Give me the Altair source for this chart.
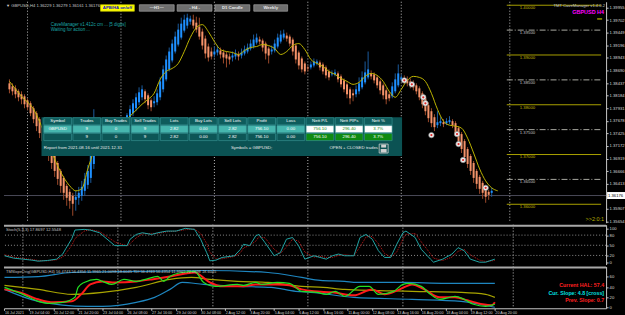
import json
import numpy as np
import pandas as pd
import altair as alt

FONT = "Liberation Sans"
W = 605
H_MAIN, H_STO, H_TMA = 222, 40, 42
X_DOMAIN = [-0.16, 196.3]

# ---------------- time axis ----------------
time_labels = ["16 Jul 2021", "19 Jul 04:00", "20 Jul 12:00", "21 Jul 20:00", "23 Jul 04:00",
               "26 Jul 08:00", "27 Jul 16:00", "29 Jul 00:00", "30 Jul 08:00", "2 Aug 12:00",
               "3 Aug 20:00", "5 Aug 04:00", "6 Aug 12:00", "9 Aug 16:00", "11 Aug 00:00",
               "12 Aug 08:00", "13 Aug 16:00", "16 Aug 20:00", "18 Aug 04:00", "19 Aug 12:00",
               "20 Aug 20:00"]
label_idx = [0, 8, 16, 24, 32, 40, 48, 56, 64, 72, 80, 88, 96, 104, 112, 120, 128, 136, 144, 152, 160]
week_sep_idx = [6, 37, 68, 99, 130, 166]

# ---------------- Heiken-Ashi candles (price x 10000) ----------------
ha_open = [13843, 13837, 13833, 13827, 13821, 13817, 13809, 13803, 13793, 13783,
           13771, 13757, 13743, 13727, 13713, 13697, 13683, 13667, 13653, 13637,
           13625, 13617, 13609, 13613, 13617, 13627, 13639, 13653, 13681, 13719,
           13735, 13745, 13749, 13747, 13745, 13747, 13751, 13755, 13759, 13765,
           13773, 13783, 13793, 13805, 13815, 13827, 13819, 13809, 13803, 13805,
           13815, 13831, 13851, 13871, 13889, 13907, 13921, 13935, 13949, 13959,
           13967, 13971, 13965, 13957, 13947, 13933, 13917, 13907, 13901, 13905,
           13909, 13905, 13901, 13897, 13895, 13897, 13901, 13899, 13903, 13907,
           13913, 13917, 13925, 13931, 13929, 13923, 13913, 13907, 13909, 13917,
           13927, 13935, 13939, 13937, 13931, 13919, 13905, 13893, 13883, 13875,
           13875, 13879, 13883, 13885, 13881, 13875, 13867, 13861, 13861, 13863,
           13857, 13849, 13841, 13831, 13823, 13821, 13827, 13835, 13845, 13855,
           13863, 13861, 13855, 13847, 13839, 13829, 13821, 13817, 13827, 13839,
           13851, 13853, 13851, 13847, 13843, 13839, 13833, 13823, 13813, 13799,
           13787, 13775, 13759, 13763, 13765, 13763, 13765, 13767, 13763, 13753,
           13741, 13727, 13711, 13697, 13683, 13667, 13655, 13643, 13633, 13625,
           13623]
ha_close = [13831, 13827, 13821, 13815, 13811, 13801, 13795, 13783, 13771, 13757,
            13743, 13727, 13713, 13697, 13683, 13667, 13651, 13637, 13623, 13613,
            13607, 13601, 13615, 13623, 13635, 13651, 13667, 13707, 13757, 13751,
            13755, 13751, 13745, 13741, 13751, 13755, 13759, 13763, 13769, 13779,
            13791, 13803, 13815, 13825, 13831, 13811, 13799, 13795, 13807, 13823,
            13847, 13871, 13891, 13907, 13923, 13937, 13951, 13963, 13971, 13975,
            13973, 13959, 13951, 13937, 13919, 13903, 13895, 13897, 13907, 13911,
            13901, 13895, 13893, 13891, 13899, 13903, 13897, 13905, 13911, 13915,
            13923, 13931, 13935, 13927, 13915, 13903, 13899, 13911, 13923, 13935,
            13941, 13943, 13933, 13923, 13907, 13891, 13879, 13871, 13867, 13873,
            13881, 13887, 13887, 13875, 13867, 13859, 13855, 13863, 13865, 13851,
            13841, 13831, 13821, 13813, 13819, 13831, 13843, 13855, 13865, 13871,
            13857, 13849, 13839, 13829, 13819, 13811, 13813, 13837, 13851, 13863,
            13855, 13847, 13843, 13839, 13835, 13827, 13815, 13801, 13787, 13773,
            13763, 13755, 13765, 13767, 13761, 13767, 13769, 13759, 13743, 13727,
            13711, 13695, 13681, 13667, 13653, 13641, 13631, 13623, 13615, 13619,
            13627]
ha_high = [13851, 13843, 13839, 13831, 13827, 13821, 13813, 13807, 13797, 13787,
           13775, 13761, 13747, 13731, 13717, 13703, 13687, 13671, 13657, 13641,
           13631, 13623, 13627, 13635, 13647, 13663, 13679, 13717, 13791, 13767,
           13771, 13767, 13761, 13757, 13763, 13765, 13767, 13771, 13773, 13783,
           13799, 13811, 13823, 13835, 13839, 13831, 13823, 13813, 13817, 13831,
           13855, 13879, 13899, 13915, 13931, 13947, 13963, 13975, 13981, 13983,
           13979, 13981, 13977, 13975, 13953, 13939, 13923, 13915, 13917, 13919,
           13915, 13911, 13907, 13903, 13907, 13911, 13907, 13913, 13919, 13923,
           13931, 13941, 13943, 13937, 13933, 13927, 13917, 13919, 13931, 13943,
           13949, 13951, 13945, 13941, 13935, 13923, 13909, 13897, 13887, 13879,
           13887, 13893, 13891, 13889, 13885, 13879, 13871, 13869, 13871, 13867,
           13861, 13853, 13845, 13835, 13831, 13839, 13855, 13867, 13887, 13907,
           13869, 13865, 13859, 13851, 13843, 13833, 13827, 13845, 13863, 13881,
           13861, 13859, 13857, 13853, 13849, 13843, 13837, 13827, 13817, 13805,
           13793, 13781, 13787, 13775, 13771, 13773, 13777, 13771, 13767, 13757,
           13745, 13731, 13715, 13701, 13687, 13671, 13659, 13647, 13637, 13629,
           13633]
ha_low = [13823, 13819, 13813, 13807, 13801, 13793, 13789, 13777, 13763, 13747,
          13733, 13717, 13703, 13687, 13671, 13655, 13639, 13623, 13609, 13597,
          13591, 13577, 13587, 13599, 13607, 13617, 13631, 13643, 13671, 13707,
          13727, 13735, 13735, 13731, 13737, 13741, 13745, 13751, 13753, 13759,
          13767, 13777, 13787, 13799, 13809, 13803, 13791, 13787, 13795, 13799,
          13809, 13825, 13847, 13867, 13885, 13903, 13917, 13931, 13945, 13953,
          13961, 13953, 13945, 13931, 13911, 13893, 13887, 13891, 13895, 13899,
          13893, 13883, 13875, 13881, 13887, 13891, 13889, 13893, 13899, 13903,
          13909, 13913, 13921, 13921, 13907, 13891, 13883, 13901, 13905, 13913,
          13923, 13931, 13927, 13917, 13899, 13883, 13871, 13865, 13861, 13867,
          13871, 13875, 13879, 13869, 13861, 13853, 13849, 13857, 13857, 13845,
          13835, 13825, 13813, 13801, 13807, 13815, 13821, 13831, 13841, 13851,
          13851, 13843, 13833, 13821, 13811, 13801, 13807, 13813, 13823, 13835,
          13847, 13841, 13837, 13833, 13829, 13821, 13809, 13793, 13779, 13765,
          13755, 13747, 13753, 13757, 13755, 13759, 13761, 13753, 13737, 13719,
          13703, 13687, 13673, 13659, 13643, 13631, 13621, 13611, 13603, 13609,
          13615]

# moving average (yellow)
ma_idx = [0, 4, 8, 12, 16, 20, 22, 24, 26, 28, 32, 36, 40, 44,
          46, 48, 50, 52, 54, 56, 58, 60, 62, 64, 66, 68, 70, 72, 74, 76, 78, 80, 82, 84,
          86, 88, 90, 92, 94, 96, 98, 100, 102, 104, 106, 108, 110, 112, 114, 116, 118, 120,
          122, 124, 126, 128, 130, 132, 134, 136, 138, 140, 142, 144, 146, 148, 150, 152,
          154, 156, 158, 160, 162]
ma_val = [13847, 13817, 13791, 13737, 13677, 13637, 13627, 13631, 13671, 13707,
          13747, 13757, 13777, 13801,
          13811, 13823, 13851, 13867, 13873, 13883, 13907, 13935, 13955, 13961,
          13947, 13927, 13911, 13907, 13905, 13901, 13909, 13915, 13917, 13921,
          13919, 13913, 13901, 13907, 13919, 13923, 13911, 13891, 13883, 13877,
          13867, 13861, 13853, 13847, 13841, 13845, 13857, 13863, 13859, 13847,
          13827, 13815, 13831, 13849, 13857, 13855, 13847, 13823, 13791, 13767,
          13759, 13757, 13753, 13733, 13703, 13671, 13647, 13633, 13627]

# trades (entry / exit markers)
trade_idx = [131, 133.5, 137.3, 138, 140, 148.5, 149, 150.5, 158]
trade_px = [13849, 13841, 13815, 13803, 13739, 13741, 13721, 13689, 13633]

# price levels and axis
levels_solid = [1.40, 1.39, 1.38, 1.37, 1.36]
levels_dash = [1.395, 1.385, 1.375, 1.365]
level_start = 165
level_label_at = 169.3
price_ticks = [1.39955, 1.39702, 1.39449, 1.39196, 1.38943, 1.38690, 1.38437, 1.38184,
               1.37931, 1.37678, 1.37425, 1.37172, 1.36919, 1.36666, 1.36413, 1.35907, 1.35654]
bid = 1.36176

# ---------------- Stochastic ----------------
stoch_idx = [0, 3, 6, 9, 11, 14, 17, 19, 20, 22, 23, 26, 28, 31, 36, 40, 41, 43, 45, 48,
             50, 53, 56, 59, 62, 64, 66, 67, 69, 71, 75, 77, 78, 80, 82, 83, 85, 88, 90, 92,
             94, 96, 98, 101, 103, 105, 107, 109, 111, 114, 116, 118, 120, 122, 124, 126, 128,
             130, 131, 134, 136, 139, 140, 143, 146, 148, 150, 152, 155, 157, 160]
stoch_main = [19, 12, 9, 6, 3, 5, 9, 24, 40, 70, 95, 97, 95, 87, 49, 49, 68, 82, 87, 82,
              87, 92, 92, 100, 97, 68, 28, 4, 6, 14, 19, 38, 53, 49, 78, 82, 58, 19, 28, 68,
              73, 48, 9, 19, 14, 9, 19, 24, 19, 19, 73, 82, 68, 34, 14, 14, 53, 87, 92, 73,
              38, 9, 0, 9, 24, 43, 34, 9, 0, 0, 9]
stoch_signal = [22, 15, 11, 8, 5, 4, 7, 15, 26, 50, 70, 92, 96, 91, 60, 48, 55, 72, 84, 85,
                85, 90, 92, 96, 98, 85, 55, 30, 10, 10, 17, 28, 42, 50, 62, 75, 72, 38, 25, 45,
                68, 62, 30, 15, 17, 14, 14, 20, 22, 19, 45, 75, 76, 55, 26, 15, 30, 68, 82, 85,
                60, 25, 12, 5, 15, 32, 38, 22, 6, 2, 5]

# ---------------- TMA slope window ----------------
tma_upper_idx = [0, 11, 22, 43, 65, 86, 97, 103, 111, 115, 130, 144, 160]
tma_upper = [58.8, 60.5, 68.5, 70.5, 72.4, 68.5, 58.8, 53.0, 51.1, 49.1, 49.1, 47.2, 47.2]
tma_lower_idx = [0, 11, 27, 32, 43, 49, 54, 58, 65, 76, 87, 95, 100, 114, 133, 149, 160]
tma_lower = [35.5, 12.2, 2.5, 2.5, 10.3, 20.0, 35.5, 49.1, 45.2, 41.4, 39.4, 31.7, 29.7,
             20.0, 16.1, 12.2, 0.6]
tma_mid_idx = [0, 11, 22, 32, 43, 54, 61, 67, 76, 86, 97, 104, 111, 133, 149, 157, 160]
tma_mid = [43.3, 35.5, 25.8, 29.7, 39.4, 55.0, 58.8, 55.0, 51.1, 49.1, 41.4, 39.4, 35.5,
           31.7, 29.7, 25.8, 20.0]
tma_red_idx = [0, 5, 11, 16, 22, 25, 28, 32, 36, 43, 48, 54, 59, 62, 67, 71, 78, 82, 89, 93,
               97, 101, 107, 114, 120, 124, 129, 133, 137, 142, 147, 151, 156, 159, 160]
tma_red = [35.5, 29.7, 16.1, 10.3, 12.2, 25.8, 45.2, 51.1, 49.1, 51.1, 55.0, 60.8, 66.6, 68.5,
           49.1, 41.4, 41.4, 45.2, 45.2, 43.3, 35.5, 31.7, 29.7, 23.9, 35.5, 25.8, 35.5, 45.2,
           35.5, 20.0, 20.0, 14.2, 6.4, 4.5, 10.3]
tma_green_idx = [0, 6, 11, 14, 19, 23, 24, 26, 30, 32, 35, 39, 43, 46, 50, 52, 54, 58, 62, 65,
                 69, 76, 78, 82, 84, 89, 93, 97, 102, 105, 108, 111, 116, 119, 122, 127, 130,
                 132, 136, 139, 142, 147, 150, 153, 157, 160]
tma_green = [39.4, 25.8, 12.2, 8.3, 10.3, 20.0, 39.4, 49.1, 55.0, 51.1, 45.2, 55.0, 51.1, 55.0,
             60.8, 51.1, 60.8, 68.5, 70.5, 49.1, 41.4, 45.2, 43.3, 49.1, 45.2, 49.1, 47.2, 31.7,
             29.7, 25.8, 31.7, 21.9, 41.4, 41.4, 25.8, 31.7, 45.2, 47.2, 41.4, 25.8, 16.1, 21.9,
             16.1, 6.4, 2.5, 6.4]

# ---------------- report table ----------------
table_cols = ["Symbol", "Trades", "Buy Trades", "Sell Trades", "Lots", "Buy Lots", "Sell Lots",
              "Profit", "Loss", "Nett P/L", "Nett PIPs", "Nett %"]
table_row1 = ["GBPUSD", "9", "0", "9", "2.82", "0.00", "2.82", "756.10", "0.00", "756.10", "296.40", "3.7%"]
table_row2 = ["", "9", "0", "9", "2.82", "0.00", "2.82", "756.10", "0.00", "756.10", "296.40", "3.7%"]

for arr in (ha_open, ha_close, ha_high, ha_low):
    assert len(arr) == 161
assert len(ma_idx) == len(ma_val)
assert len(stoch_idx) == len(stoch_main) == len(stoch_signal)
assert len(tma_red_idx) == len(tma_red) and len(tma_green_idx) == len(tma_green)
assert len(tma_upper_idx) == len(tma_upper) and len(tma_lower_idx) == len(tma_lower)
assert len(tma_mid_idx) == len(tma_mid)

# ---------------- frames ----------------
cdf = pd.DataFrame({"i": np.arange(161),
                    "o": np.array(ha_open) / 1e4, "c": np.array(ha_close) / 1e4,
                    "h": np.array(ha_high) / 1e4, "l": np.array(ha_low) / 1e4})
cdf["dir"] = np.where(cdf["c"] >= cdf["o"], "up", "down")
ma_df = pd.DataFrame({"i": ma_idx, "p": np.array(ma_val) / 1e4})
tr_df = pd.DataFrame({"i": trade_idx, "p": np.array(trade_px) / 1e4})
sep_df = pd.DataFrame({"i": week_sep_idx})
lev_s = pd.DataFrame({"p": levels_solid})
lev_d = pd.DataFrame({"p": levels_dash})
for d in (lev_s, lev_d):
    d["x0"] = level_start
    d["x1"] = X_DOMAIN[1]
    d["xl"] = level_label_at
    d["lab"] = [f"{v:.5f}" for v in d["p"]]
bid_df = pd.DataFrame({"p": [bid], "hi": [bid + 0.0007], "lo": [bid - 0.0007], "t": [f"{bid:.5f}"]})
sto_df = pd.DataFrame({"i": stoch_idx, "m": stoch_main, "s": stoch_signal})
one = pd.DataFrame({"k": [0]})


def ser(idx, vals):
    return pd.DataFrame({"i": idx, "v": vals})


# ---------------- helpers ----------------
xs = alt.Scale(domain=X_DOMAIN, nice=False, zero=False)
AXC = "#c8c8c8"


def raxis(values, fmt):
    return alt.Axis(orient="right", values=values, format=fmt, title=None, labelFontSize=4.2,
                    labelFont=FONT, labelColor="#d8d8d8", tickColor=AXC, tickSize=2, labelPadding=1,
                    domainColor=AXC, grid=False, labelOverlap=False, labelFlush=False)


def label(text, x, y, color="#c8c8c8", size=4.5, weight="normal", align="left"):
    return alt.Chart(one).mark_text(text=text, x=x, y=y, color=color, fontSize=size,
                                    fontWeight=weight, align=align, baseline="middle", font=FONT)


def box(x1, x2, y1, y2, fill, stroke=None, sw=0.7):
    kw = {"fill": fill}
    if stroke is not None:
        kw.update(stroke=stroke, strokeWidth=sw)
    return alt.Chart(one).mark_rect(**kw).encode(x=alt.value(x1), x2=alt.value(x2),
                                                 y=alt.value(y1), y2=alt.value(y2))


def sepline():
    return alt.Chart(one).mark_rule(color="#a8a8a8", strokeWidth=2).encode(
        x=alt.value(0), x2=alt.value(W), y=alt.value(1))


# ---------------- main price window ----------------
ys = alt.Scale(domain=[1.3563, 1.4007], nice=False, zero=False)
yax = raxis(price_ticks, ".5f")


def xm(f):
    return alt.X(f"{f}:Q", scale=xs, axis=None)


def ym(f):
    return alt.Y(f"{f}:Q", scale=ys, axis=yax)


seps = alt.Chart(sep_df).mark_rule(color="#bdbdbd", strokeDash=[1, 2], strokeWidth=1).encode(x=xm("i"))
bidline = alt.Chart(bid_df).mark_rule(color="#4a4a58", strokeWidth=1).encode(y=ym("p"))
lv1 = alt.Chart(lev_s).mark_rule(color="#a8a000", strokeWidth=1).encode(x=xm("x0"), x2="x1:Q", y=ym("p"))
lv2 = alt.Chart(lev_d).mark_rule(color="#a8a8a0", strokeWidth=1, strokeDash=[6, 2, 1, 2]).encode(
    x=xm("x0"), x2="x1:Q", y=ym("p"))
lt1 = alt.Chart(lev_s).mark_text(align="left", baseline="top", dy=1, fontSize=4.3, font=FONT,
                                 color="#c0b800").encode(x=xm("xl"), y=ym("p"), text="lab:N")
lt2 = alt.Chart(lev_d).mark_text(align="left", baseline="top", dy=1, fontSize=4.3, font=FONT,
                                 color="#c0c0c0").encode(x=xm("xl"), y=ym("p"), text="lab:N")
wicks = alt.Chart(cdf).mark_rule(strokeWidth=1).encode(
    x=xm("i"), y=ym("l"), y2="h:Q",
    stroke=alt.Stroke("dir:N", scale=alt.Scale(domain=["up", "down"], range=["#1b5c9e", "#9c4a2a"]), legend=None))
bodies = alt.Chart(cdf).mark_bar(size=2).encode(
    x=xm("i"), y=ym("o"), y2="c:Q",
    color=alt.Color("dir:N", scale=alt.Scale(domain=["up", "down"], range=["#1e90ff", "#f4936a"]), legend=None))
ma = alt.Chart(ma_df).mark_line(color="#bdb400", strokeWidth=1, interpolate="monotone").encode(x=xm("i"), y=ym("p"))
tr1 = alt.Chart(tr_df).mark_point(filled=True, color="#eeeeee", size=30, opacity=1,
                                  stroke="#8a8a8a", strokeWidth=0.6).encode(x=xm("i"), y=ym("p"))
tr2 = alt.Chart(tr_df).mark_point(filled=True, color="#e02828", size=5, opacity=1).encode(x=xm("i"), y=ym("p"))
bidbox = alt.Chart(bid_df).mark_rect(fill="#ffffff").encode(
    x=alt.value(W + 1), x2=alt.value(W + 19), y=ym("hi"), y2="lo:Q")
bidtxt = alt.Chart(bid_df).mark_text(align="left", baseline="middle", fontSize=4.2, font=FONT,
                                     color="#000000").encode(x=alt.value(W + 2), y=ym("p"), text="t:N")

price_layer = alt.layer(seps, bidline, lv1, lv2, lt1, lt2, wicks, bodies, ma, tr1, tr2, bidbox, bidtxt)

# table overlay (own band scales)
trows = []
for rk, vals in (("h", table_cols), ("r1", table_row1), ("r2", table_row2)):
    for col, v in zip(table_cols, vals):
        kind = rk + ("n" if (col.startswith("Nett") and rk != "h") else "")
        trows.append({"col": col, "row": rk, "txt": v, "kind": kind})
tdf = pd.DataFrame(trows)
tx = alt.X("col:N", scale=alt.Scale(domain=table_cols, range=[40, 390], paddingInner=0.05, paddingOuter=0), axis=None)
ty = alt.Y("row:N", scale=alt.Scale(domain=["h", "r1", "r2"], range=[116.5, 139.5], paddingInner=0.1, paddingOuter=0), axis=None)
kinds = ["h", "r1", "r1n", "r2", "r2n"]
cells = alt.Chart(tdf).mark_rect(stroke="#3a9696", strokeWidth=0.6).encode(
    x=tx, y=ty, fill=alt.Fill("kind:N", scale=alt.Scale(domain=kinds, range=["#0e5c5c", "#46b6ae", "#ffffff", "#0d5656", "#0f8a12"]), legend=None))
ctext = alt.Chart(tdf).mark_text(fontSize=4.4, font=FONT, baseline="middle").encode(
    x=tx, y=ty, text="txt:N",
    color=alt.Color("kind:N", scale=alt.Scale(domain=kinds, range=["#ffffff", "#ffffff", "#1a8a1a", "#ffffff", "#ffffff"]), legend=None))
table_layer = alt.layer(
    box(37.7, 400, 116, 155, "#0b5253"),
    cells, ctext,
    label("Report from 2021.08.16 until 2021.12.31", 40, 147, "#e8e8e8", 4.4),
    label("Symbols = GBPUSD;", 228, 147, "#e8e8e8", 4.4),
    label("OPEN + CLOSED trades", 327, 147, "#e8e8e8", 4.4),
    box(377, 386, 143, 152, "#0b5253", "#d0d0d0", 0.8),
    box(379, 384, 143.5, 146.5, "#d0d0d0"),
    box(378.5, 384.5, 148, 151.5, "#d0d0d0"),
)

ui_layer = alt.layer(
    label("\u25bc GBPUSD,H4  1.36229 1.36279 1.36161 1.36176", 2, 4, "#c8c8c8", 4.2),
    label("CaveManager v1.412c cm ... [5 digits]", 47, 23, "#1aa6a6", 4.5),
    label("Waiting for action ...", 47, 28.5, "#1aa6a6", 4.5),
    box(97, 131, 3, 9.5, "#ffff00", "#c0c000"),
    label("APB/HA on/off", 114, 6.3, "#1010c0", 4.3, "bold", "center"),
    box(136, 171, 3, 9.5, "#6e6e6e", "#a0a0a0"),
    label("\u2014H1\u2014", 153.5, 6.3, "#e8e8e8", 4.3, "bold", "center"),
    box(174, 209, 3, 9.5, "#6e6e6e", "#a0a0a0"),
    label("- H4 -", 191.5, 6.3, "#e8e8e8", 4.3, "bold", "center"),
    box(212, 247, 3, 9.5, "#6e6e6e", "#a0a0a0"),
    label("D1 Candle", 229.5, 6.3, "#e8e8e8", 4.3, "bold", "center"),
    box(251, 285, 3, 9.5, "#6e6e6e", "#a0a0a0"),
    label("Weekly", 268, 6.3, "#e8e8e8", 4.3, "bold", "center"),
    label("TMT CaveManager v1.4.0.2", 604, 4.5, "#c8c8c8", 4.2, "normal", "right"),
    label("GBPUSD H4", 603, 10, "#ff00ff", 5.5, "bold", "right"),
    alt.Chart(one).mark_rule(color="#e0e000", strokeWidth=1).encode(
        x=alt.value(596), x2=alt.value(601), y=alt.value(17.3)),
    label(">>2:0:1", 603, 218, "#b8b000", 5.5, "normal", "right"),
)

main = alt.layer(price_layer, table_layer, ui_layer).resolve_scale(
    x="independent", y="independent", color="independent", fill="independent", stroke="independent"
).properties(width=W, height=H_MAIN)

# ---------------- stochastic window ----------------
sy = alt.Scale(domain=[-6.8, 110.9], nice=False, zero=False)
say = raxis([0, 20, 50, 80, 100], "d")


def xs_(f):
    return alt.X(f"{f}:Q", scale=xs, axis=None)


lvl_df = pd.DataFrame({"v": [20, 50, 80]})
stoch = alt.layer(
    alt.Chart(sep_df).mark_rule(color="#bdbdbd", strokeDash=[1, 2]).encode(x=xs_("i")),
    alt.Chart(lvl_df).mark_rule(color="#8a8a8a", strokeDash=[1, 2]).encode(y=alt.Y("v:Q", scale=sy, axis=say)),
    alt.Chart(sto_df).mark_line(color="#c01818", strokeWidth=1, strokeDash=[1, 1]).encode(
        x=xs_("i"), y=alt.Y("s:Q", scale=sy, axis=say)),
    alt.Chart(sto_df).mark_line(color="#20a4a4", strokeWidth=1).encode(
        x=xs_("i"), y=alt.Y("m:Q", scale=sy, axis=say)),
    sepline(),
    label("Stoch(5,3,3) 17.8697 12.5548", 2, 5, "#c0c0c0", 4.2),
).properties(width=W, height=H_STO)

# ---------------- TMA slope window ----------------
tys = alt.Scale(domain=[-1.36, 80.2], nice=False, zero=False)
tay = raxis([0, 20, 40, 60], "d")
xaxis_bottom = alt.Axis(values=label_idx, labelExpr=json.dumps(time_labels) + "[round(datum.value/8)]",
                        labelAlign="left", labelBaseline="top", labelFontSize=3.7, labelFont=FONT,
                        labelColor="#d0d0d0", tickColor=AXC, tickSize=2, labelPadding=0.5,
                        domainColor=AXC, title=None, grid=False, labelOverlap=False,
                        labelFlush=False, labelBound=False)


def xt(f):
    return alt.X(f"{f}:Q", scale=xs, axis=xaxis_bottom)


def tline(df, color, sw):
    return alt.Chart(df).mark_line(color=color, strokeWidth=sw, interpolate="monotone").encode(
        x=xt("i"), y=alt.Y("v:Q", scale=tys, axis=tay))


tma = alt.layer(
    alt.Chart(sep_df).mark_rule(color="#bdbdbd", strokeDash=[1, 2]).encode(x=xt("i")),
    tline(ser(tma_upper_idx, tma_upper), "#1e86c0", 1.2),
    tline(ser(tma_lower_idx, tma_lower), "#1e86c0", 1.2),
    tline(ser(tma_mid_idx, tma_mid), "#a8a400", 1.2),
    tline(ser(tma_red_idx, tma_red), "#ff1a1a", 2),
    tline(ser(tma_green_idx, tma_green), "#22e022", 1.2),
    sepline(),
    label("TMSlopeOrig(GBPUSD,H4) 56.4743 56.4354 11.9965 21.0098 18.6045  TDI 56.4743 56.4354 11.9965 21.0098 18.6045",
          2, 5.5, "#c0c0c0", 4.0),
    label("Current HAL: 57.4", 603, 19, "#ff2020", 5.3, "bold", "right"),
    label("Cur. Slope: 4.8 [cross]", 603, 26.5, "#00e0e0", 5.3, "bold", "right"),
    label("Prev. Slope: 0.7", 603, 34, "#ff2020", 5.3, "bold", "right"),
).properties(width=W, height=H_TMA)

chart = alt.vconcat(main, stoch, tma, spacing=0).properties(
    background="#000000", padding=0
).configure_view(strokeWidth=0).configure_axis(labelFont=FONT)

chart.save("out.html", embed_options={"renderer": "svg", "actions": False})
